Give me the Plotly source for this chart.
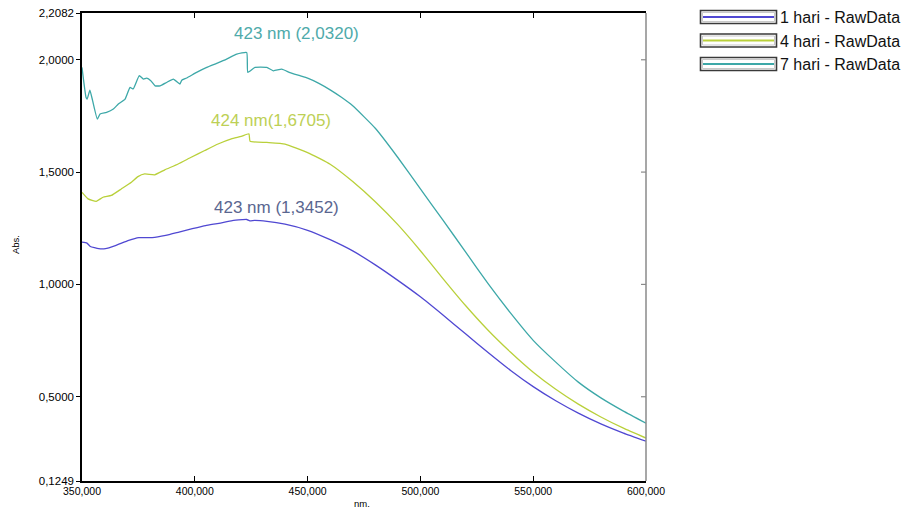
import plotly.graph_objects as go

# UV-Vis absorbance spectra, three incubation times
series_names = ["1 hari - RawData", "4 hari - RawData", "7 hari - RawData"]
series_colors = ["#5048D2", "#B9D03A", "#3DA8A8"]

wl_1hari = [350.0, 352.2, 353.7, 357.4, 360.4, 364.8, 370.7, 375.2, 381.1, 387.1,
            393.0, 398.9, 404.8, 410.7, 416.6, 421.0, 423.0, 424.4, 426.5, 432.0,
            440.0, 450.0, 460.0, 470.0, 480.0, 490.0, 500.0, 510.0, 520.0, 530.0,
            540.0, 550.0, 560.0, 570.0, 580.0, 590.0, 600.0]
abs_1hari = [1.188, 1.184, 1.169, 1.159, 1.159, 1.173, 1.196, 1.208, 1.208, 1.218,
             1.233, 1.248, 1.262, 1.272, 1.284, 1.288, 1.289, 1.283, 1.285, 1.281,
             1.268, 1.241, 1.199, 1.149, 1.087, 1.018, 0.945, 0.864, 0.780, 0.697,
             0.617, 0.545, 0.482, 0.427, 0.379, 0.338, 0.302]

wl_4hari = [350.0, 352.7, 356.3, 359.3, 363.0, 367.4, 371.9, 374.8, 377.8, 382.2,
            386.7, 392.6, 398.4, 404.4, 410.3, 416.2, 420.6, 424.0, 424.5, 431.9,
            440.0, 450.0, 460.0, 470.0, 480.0, 490.0, 500.0, 510.0, 520.0, 530.0,
            540.0, 550.0, 560.0, 570.0, 580.0, 590.0, 600.0]
abs_4hari = [1.410, 1.381, 1.370, 1.388, 1.396, 1.425, 1.455, 1.480, 1.492, 1.488,
             1.510, 1.536, 1.566, 1.596, 1.625, 1.648, 1.659, 1.6705, 1.637, 1.632,
             1.625, 1.587, 1.535, 1.458, 1.368, 1.266, 1.150, 1.026, 0.906, 0.796,
             0.698, 0.609, 0.533, 0.467, 0.410, 0.360, 0.316]

wl_7hari = [350.0, 351.8, 352.3, 353.5, 354.7, 356.8, 358.0, 360.9, 363.9, 366.1,
            369.1, 371.3, 372.7, 375.4, 377.2, 378.7, 380.5, 382.4, 384.6, 387.5,
            390.5, 393.4, 394.2, 396.4, 400.8, 405.3, 409.7, 414.1, 418.6, 423.0,
            423.5, 426.7, 431.9, 434.8, 438.5, 442.2, 446.6, 450.0, 455.0, 460.0,
            465.0, 470.0, 480.0, 490.0, 500.0, 510.0, 520.0, 530.0, 540.0, 550.0,
            560.0, 570.0, 580.0, 590.0, 600.0]
abs_7hari = [1.966, 1.832, 1.825, 1.865, 1.818, 1.736, 1.759, 1.766, 1.781, 1.803,
             1.825, 1.877, 1.870, 1.929, 1.914, 1.918, 1.907, 1.884, 1.884, 1.899,
             1.914, 1.892, 1.909, 1.919, 1.944, 1.966, 1.984, 2.003, 2.025, 2.032,
             1.944, 1.966, 1.966, 1.951, 1.958, 1.943, 1.929, 1.918, 1.895, 1.866,
             1.833, 1.795, 1.695, 1.565, 1.425, 1.286, 1.145, 1.003, 0.872, 0.751,
             0.654, 0.565, 0.495, 0.436, 0.382]

# peak annotations: text, anchor position (nm, Abs), colour
peak_texts = ["423 nm (1,3452)", "424 nm(1,6705)", "423 nm (2,0320)"]
peak_pos_nm = [436.0, 433.8, 444.9]
peak_pos_abs = [1.342, 1.729, 2.116]
peak_colors = ["#5A6690", "#BDD055", "#4EAAAA"]

x_ticks = [350, 400, 450, 500, 550, 600]
x_ticktext = ["350,000", "400,000", "450,000", "500,000", "550,000", "600,000"]
y_ticks = [0.1249, 0.5, 1.0, 1.5, 2.0, 2.2082]
y_ticktext = ["0,1249", "0,5000", "1,0000", "1,5000", "2,0000", "2,2082"]

FONT = "Liberation Sans, Arial, sans-serif"

fig = go.Figure()
for wl, ab, name, col in zip([wl_1hari, wl_4hari, wl_7hari],
                             [abs_1hari, abs_4hari, abs_7hari],
                             series_names, series_colors):
    fig.add_trace(go.Scatter(x=wl, y=ab, mode="lines", name=name,
                             line=dict(color=col, width=1.3, shape="spline",
                                       smoothing=0.4),
                             showlegend=False))

for txt, xn, ya, col in zip(peak_texts, peak_pos_nm, peak_pos_abs, peak_colors):
    fig.add_annotation(x=xn, y=ya, xref="x", yref="y", text=txt, showarrow=False,
                       xanchor="center", yanchor="middle",
                       font=dict(family=FONT, size=17, color=col))

# pixel helpers relative to the plot area
plot_w, plot_h, left, top = 564, 468, 82, 13
def px(xp):
    return (xp - left) / plot_w
def py(yp):
    return 1 - (yp - top) / plot_h

# right-hand frame edge with inward ticks (grey)
shapes = [dict(type="line", xref="paper", yref="paper", x0=1, x1=1, y0=0, y1=1,
               line=dict(color="#8A8A8A", width=1.5))]
for yv in y_ticks[1:-1]:
    shapes.append(dict(type="line", xref="paper", yref="y", x0=1, x1=px(641),
                       y0=yv, y1=yv, line=dict(color="#8A8A8A", width=1.2)))

# boxed legend to the right of the plot
legend_rows = [17, 40.5, 64]
for name, col, yc in zip(series_names, series_colors, legend_rows):
    shapes.append(dict(type="rect", xref="paper", yref="paper",
                       x0=px(700.5), x1=px(776.5), y0=py(yc - 6.5), y1=py(yc + 6.5),
                       line=dict(color="#3A3A3A", width=1.6), fillcolor="white"))
    shapes.append(dict(type="rect", xref="paper", yref="paper",
                       x0=px(702.5), x1=px(774.5), y0=py(yc - 4.5), y1=py(yc + 4.5),
                       line=dict(color="#BBBBBB", width=0.8), fillcolor="white"))
    shapes.append(dict(type="line", xref="paper", yref="paper",
                       x0=px(703), x1=px(774), y0=py(yc), y1=py(yc),
                       line=dict(color=col, width=2)))
    fig.add_annotation(xref="paper", yref="paper", x=px(778), y=py(yc + 0.5),
                       xanchor="left", yanchor="middle", text=name, showarrow=False,
                       font=dict(family=FONT, size=16, color="#111111"))

# axis titles
fig.add_annotation(xref="paper", yref="paper", x=px(362), y=py(503), text="nm.",
                   xanchor="center", yanchor="middle", showarrow=False,
                   font=dict(family=FONT, size=9.5, color="black"))
fig.add_annotation(xref="paper", yref="paper", x=px(15), y=py(245), text="Abs.",
                   xanchor="center", yanchor="middle", textangle=-90,
                   showarrow=False, font=dict(family=FONT, size=9.5, color="black"))

fig.update_layout(
    template="none",
    width=907, height=511,
    margin=dict(l=82, r=261, t=13, b=30, pad=0),
    paper_bgcolor="white", plot_bgcolor="white",
    font=dict(family=FONT, size=10, color="black"),
    shapes=shapes,
    xaxis=dict(range=[350, 600], tickvals=x_ticks, ticktext=x_ticktext,
               automargin=False, showgrid=False, zeroline=False, showline=True,
               linecolor="black", linewidth=1.5, mirror="ticks", ticks="inside",
               ticklen=5, tickwidth=1, tickcolor="black",
               tickfont=dict(size=10.5, family=FONT, color="black")),
    yaxis=dict(range=[0.1249, 2.2082], tickvals=y_ticks, ticktext=y_ticktext,
               automargin=False, showgrid=False, zeroline=False, showline=True,
               linecolor="black", linewidth=1.5, ticks="outside", ticklen=4,
               tickwidth=1, tickcolor="black",
               tickfont=dict(size=11.5, family=FONT, color="black")),
)

fig.write_html("out.html")
